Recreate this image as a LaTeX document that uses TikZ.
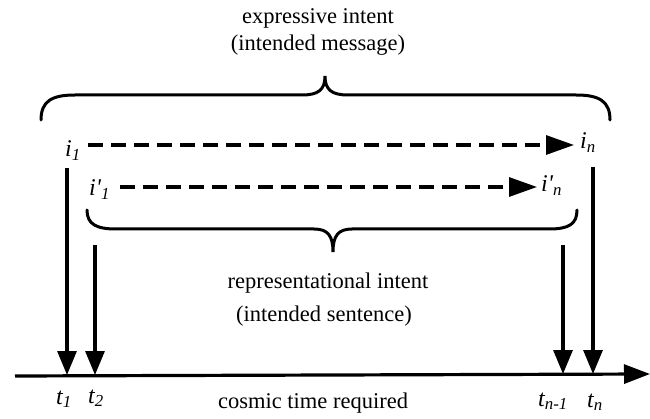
\documentclass[tikz,border=0pt]{standalone}
\usepackage{fontspec}
\setmainfont{Liberation Serif}
\usetikzlibrary{arrows.meta}
\begin{document}
\begin{tikzpicture}[x=1pt,y=-1pt,
  thick line/.style={line width=3.2pt},
  dasharrow/.style={thick line, dash pattern=on 15pt off 8pt, -{Triangle[length=28pt,width=19pt]}},
  varrow/.style={thick line, -{Triangle[length=24pt,width=19pt]}},
  bracepath/.style={line width=3pt, line cap=round},
  lbl/.style={font=\fontsize{22.5}{26}\selectfont, inner sep=0pt, anchor=base},
  sym/.style={font=\fontsize{24}{26}\selectfont\itshape, inner sep=0pt, anchor=base west}]
\useasboundingbox (0,0) rectangle (650,419);

% top texts
\node[lbl] (ex1) at (318,24) {expressive intent};
\node[lbl] (ex2) at (318,51) {(intended message)};

% top brace
\draw[bracepath] (41,120) .. controls (41,101) and (52,95) .. (75,95) -- (302,95)
  .. controls (318,95) and (325,90) .. (325,76) .. controls (325,90) and (332,95) .. (348,95)
  -- (576,95) .. controls (599,95) and (610,101) .. (610,120);

% labels i
\node[sym] (i1) at (65,157) {i\textsubscript{1}};
\node[sym] (in) at (580,149) {i\textsubscript{n}};
\node[sym] (ip1) at (89,196) {i\textquotesingle\textsubscript{1}};
\node[sym] (ipn) at (541,192) {i\textquotesingle\textsubscript{n}};

% dashed arrows
\coordinate (d1s) at (88,145);
\coordinate (d1e) at (574,145);
\coordinate (d2s) at (120,187);
\coordinate (d2e) at (537,187);
\draw[dasharrow] (d1s) -- (d1e);
\draw[dasharrow] (d2s) -- (d2e);

% lower brace
\draw[bracepath] (87,210) .. controls (87,224) and (96,229) .. (116,229) -- (314,229)
  .. controls (328,229) and (333,236) .. (333,252) .. controls (333,236) and (338,229) .. (352,229)
  -- (549,229) .. controls (569,229) and (577,224) .. (577,210);

\node[lbl] (rep1) at (328,289) {representational intent};
\node[lbl] (rep2) at (324,321) {(intended sentence)};

% axis
\coordinate (ax0) at (15,376);
\coordinate (ax1) at (650,374);
\draw[thick line, -{Triangle[length=26pt,width=19pt]}] (ax0) -- (ax1);
\node[lbl] (cosmic) at (313,408) {cosmic time required};

% vertical arrows
\coordinate (v1s) at (67,168);
\coordinate (v1e) at (67,375);
\coordinate (v2s) at (95,245);
\coordinate (v2e) at (95,375);
\coordinate (v3s) at (563,245);
\coordinate (v3e) at (563,374);
\coordinate (v4s) at (593,167);
\coordinate (v4e) at (593,374);
\draw[varrow] (v1s) -- (v1e);
\draw[varrow] (v2s) -- (v2e);
\draw[varrow] (v3s) -- (v3e);
\draw[varrow] (v4s) -- (v4e);

% t labels
\node[sym] (t1) at (56,404) {t\textsubscript{1}};
\node[sym] (t2) at (88,403) {t\textsubscript{2}};
\node[sym] (tn1) at (538,406) {t\textsubscript{n-1}};
\node[sym] (tn) at (587,407) {t\textsubscript{n}};
\end{tikzpicture}
\end{document}
